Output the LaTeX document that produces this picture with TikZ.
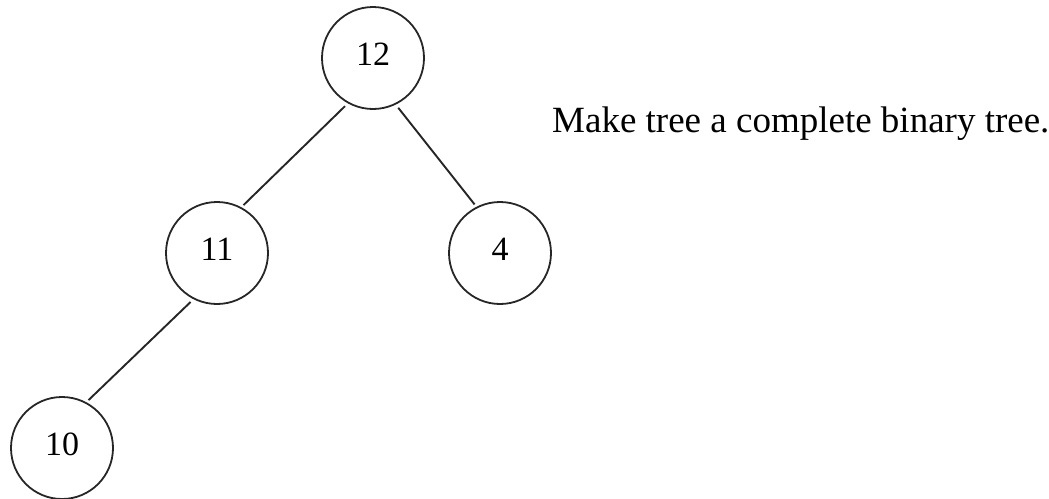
\documentclass[tikz,border=0pt]{standalone}
\usepackage{fontspec}
\setmainfont{Liberation Serif}
\begin{document}
\begin{tikzpicture}[x=1pt,y=-1pt,
  treenode/.style={draw=black!85,line width=1.8pt,circle,minimum size=102pt,inner sep=0pt,
    font=\fontsize{34}{40}\selectfont,text depth=8pt},
  edge/.style={draw=black!85,line width=1.9pt,shorten <=4pt,shorten >=3pt}]
\useasboundingbox (0,0) rectangle (1049,498);
\node[treenode] (n12) at (373,58) {12};
\node[treenode] (n11) at (217,253) {11};
\node[treenode] (n4) at (500,253) {4};
\node[treenode] (n10) at (62,448) {10};
\draw[edge] (n12.241) -- (n11.62);
\draw[edge] (n12.296) -- (n4.117);
\draw[edge] (n11.243) -- (n10.62);
\node[anchor=base west,inner sep=0pt,font=\fontsize{37}{44}\selectfont] (txt) at (552,132) {Make tree a complete binary tree.};
\end{tikzpicture}
\end{document}
